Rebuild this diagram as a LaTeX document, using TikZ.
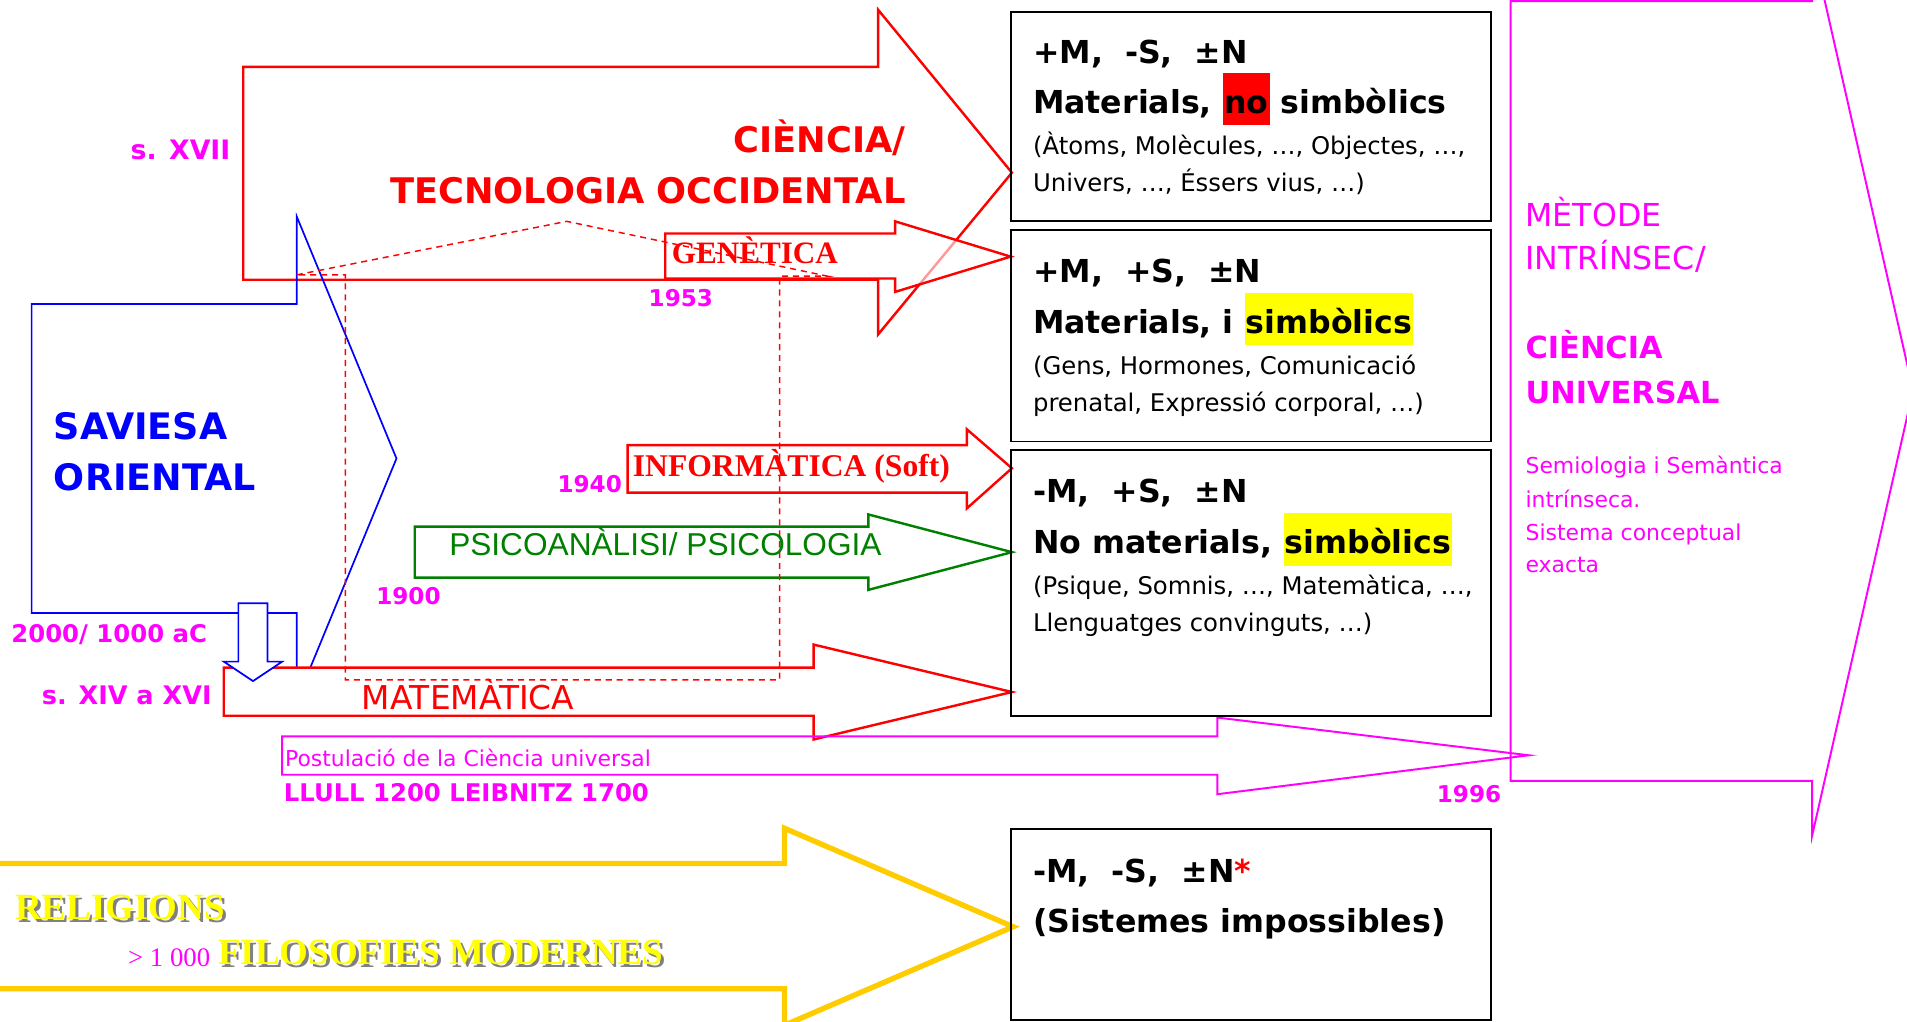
\documentclass[tikz,border=0pt]{standalone}
\usepackage{fontspec}
\usepackage{tikz}
\usepackage{xcolor}
\setmainfont{DejaVu Sans}
\newfontfamily\timesfont{Liberation Serif}
\newfontfamily\arialfont{Liberation Sans}
\definecolor{gold}{RGB}{255,204,0}
\definecolor{psygreen}{RGB}{0,128,0}
\definecolor{pinkm}{RGB}{255,0,255}
\definecolor{hlyellow}{RGB}{255,255,0}
\definecolor{hlred}{RGB}{255,0,0}
\newcommand\hilite[2]{{\setlength\fboxsep{0pt}\colorbox{#1}{\rule[-5pt]{0pt}{21.5pt}\kern0.5pt#2\kern0.5pt}}}
\newcommand\shadowed[1]{\makebox[0pt][l]{\kern1.2pt\raisebox{-1.2pt}{\textcolor{gray}{#1}}}\textcolor{hlyellow}{#1}}

\begin{document}
\begin{tikzpicture}[x=0.5pt, y=-0.5pt,
    txt/.style={anchor=base west, inner sep=0pt},
    head/.style={txt, font=\bfseries\fontsize{13}{15}\selectfont},
    plain/.style={txt, font=\fontsize{10}{12}\selectfont},
    year/.style={txt, text=pinkm, font=\bfseries\fontsize{9.5}{11}\selectfont},
    pinktxt/.style={txt, text=pinkm, font=\fontsize{#1}{15}\selectfont},
    blockarrow/.style={line width=1pt, line join=miter},
    panel/.style={draw, line width=0.8pt}]
\useasboundingbox (0,0) rectangle (1568,840);

% block arrows
\draw[blockarrow, pinkm, line width=0.8pt] (1242,1) -- (1490,1) -- (1490,-45) -- (1573,321) -- (1490,687) -- (1490,642) -- (1242,642) -- cycle;
\draw[blockarrow, hlred] (200,55) -- (722,55) -- (722,8) -- (832,142) -- (722,275) -- (722,230) -- (200,230) -- cycle;
\draw[blockarrow, blue, line width=0.7pt] (26,250) -- (244,250) -- (244,178) -- (326,377) -- (244,576) -- (244,504) -- (26,504) -- cycle;
\filldraw[blockarrow, hlred, fill=white] (184,549) -- (669,549) -- (669,530) -- (832,569) -- (669,608) -- (669,588.5) -- (184,588.5) -- cycle;
\filldraw[blockarrow, blue, fill=white, line width=0.7pt] (196,496) -- (220,496) -- (220,544) -- (232,544) -- (208,560) -- (184,544) -- (196,544) -- cycle;
\draw[blockarrow, hlred, fill=white, fill opacity=0.6] (547,192) -- (736,192) -- (736,182) -- (831,211) -- (736,240) -- (736,229) -- (547,229) -- cycle;
\draw[blockarrow, hlred] (516,366) -- (795,366) -- (795,353) -- (832,385) -- (795,418) -- (795,405) -- (516,405) -- cycle;
\draw[blockarrow, psygreen] (341,433) -- (714,433) -- (714,423) -- (832,454) -- (714,485) -- (714,475) -- (341,475) -- cycle;
\draw[blockarrow, pinkm, line width=0.8pt] (232,605.5) -- (1001,605.5) -- (1001,590) -- (1257,621) -- (1001,653) -- (1001,637) -- (232,637) -- cycle;
\draw[blockarrow, gold, line width=2.2pt] (-10,710) -- (645,710) -- (645,681) -- (833,762) -- (645,843) -- (645,813) -- (-10,813);

% boxes
\draw[panel] (831.5,9.5) rectangle (1226,182);
\draw[panel] (831.5,189.5) rectangle (1226,363);
\draw[panel] (831.5,370) rectangle (1226,588.5);
\draw[panel] (831.5,682) rectangle (1226,839);

\draw[hlred, dash pattern=on 2.5pt off 2pt, line width=0.6pt] (244,226) -- (466,182) -- (680,227) -- (641,227) -- (641,559) -- (284,559) -- (284,226) -- cycle;

% labels on the arrows
\node[txt, anchor=base east, text=hlred, font=\bfseries\fontsize{14.5}{17}\selectfont] (ciencia) at (745,125) {CIÈNCIA/};
\node[txt, anchor=base east, text=hlred, font=\bfseries\fontsize{14.5}{17}\selectfont] (tecnologia) at (745,167) {TECNOLOGIA OCCIDENTAL};
\node[txt, text=pinkm, font=\bfseries\fontsize{11}{13}\selectfont] (sxvii) at (107,131) {s. XVII};
\node[txt, text=hlred, font=\timesfont\bfseries\fontsize{12.8}{15}\selectfont] (genetica) at (552,217) {GENÈTICA};
\node[year] (d1953) at (533,252) {1953};
\node[txt, text=blue, font=\bfseries\fontsize{15}{18}\selectfont] (saviesa) at (44,361) {SAVIESA};
\node[txt, text=blue, font=\bfseries\fontsize{15}{18}\selectfont] (oriental) at (44,403) {ORIENTAL};
\node[txt, text=hlred, font=\timesfont\bfseries\fontsize{13}{15}\selectfont] (informatica) at (520,392) {INFORMÀTICA (Soft)};
\node[year] (d1940) at (458,405) {1940};
\node[txt, text=psygreen, font=\arialfont\fontsize{13}{15}\selectfont] (psico) at (369,457) {PSICOANÀLISI/ PSICOLOGIA};
\node[year] (d1900) at (309,497) {1900};
\node[txt, text=pinkm, font=\bfseries\fontsize{10}{12}\selectfont] (aC) at (9,528) {2000/ 1000 aC};
\node[txt, text=pinkm, font=\bfseries\fontsize{10.5}{12}\selectfont] (sxiv) at (34,579) {s. XIV a XVI};
\node[txt, text=hlred, font=\fontsize{13.5}{16}\selectfont] (matematica) at (297,583) {MATEMÀTICA};
\node[txt, text=pinkm, font=\fontsize{9}{11}\selectfont] (postulacio) at (234,630) {Postulació de la Ciència universal};
\node[txt, text=pinkm, font=\bfseries\fontsize{10}{12}\selectfont] (llull) at (233,659) {LLULL 1200 LEIBNITZ 1700};
\node[year] (d1996) at (1181,660) {1996};
\node[txt, font=\timesfont\bfseries\fontsize{15.2}{18}\selectfont] (religions) at (12,756) {\shadowed{RELIGIONS}};
\node[txt, text=pinkm, font=\timesfont\fontsize{11}{13}\selectfont] (mil) at (105,795) {> 1 000};
\node[txt, font=\timesfont\bfseries\fontsize{15.2}{18}\selectfont] (filosofies) at (179,793) {\shadowed{FILOSOFIES MODERNES}};

% universal science
\node[pinktxt=13] (metode) at (1254,186) {MÈTODE};
\node[pinktxt=13] (intrinsec) at (1254,221.6) {INTRÍNSEC/};
\node[pinktxt=12.5, font=\bfseries\fontsize{12.5}{15}\selectfont] (cienciau) at (1254,295) {CIÈNCIA};
\node[pinktxt=12.5, font=\bfseries\fontsize{12.5}{15}\selectfont] (universal) at (1254,332) {UNIVERSAL};
\node[pinktxt=9] (semiologia) at (1254,389) {Semiologia i Semàntica};
\node[pinktxt=9] (intrinseca) at (1254,417) {intrínseca.};
\node[pinktxt=9] (sistema) at (1254,444.5) {Sistema conceptual};
\node[pinktxt=9] (exacta) at (1254,471) {exacta};

% box contents
\node[head] (h1) at (849,52.6) {+M,\ \ -S,\ \ ±N};
\node[head] (m1) at (849,93) {Materials,\ \hilite{hlred}{no}\ simbòlics};
\node[plain] (a1) at (849,127) {(Àtoms, Molècules, …, Objectes, …,};
\node[plain] (b1) at (849,157.5) {Univers, …, Éssers vius, …)};
\node[head] (h2) at (849,232.5) {+M,\ \ +S,\ \ ±N};
\node[head] (m2) at (849,274) {Materials, i \hilite{hlyellow}{simbòlics}};
\node[plain] (a2) at (849,308) {(Gens, Hormones, Comunicació};
\node[plain] (b2) at (849,338) {prenatal, Expressió corporal, …)};
\node[head] (h3) at (849,413) {-M,\ \ +S,\ \ ±N};
\node[head] (m3) at (849,455) {No materials, \hilite{hlyellow}{simbòlics}};
\node[plain] (a3) at (849,489) {(Psique, Somnis, …, Matemàtica, …,};
\node[plain] (b3) at (849,519) {Llenguatges convinguts, …)};
\node[head] (h4) at (849,726) {-M,\ \ -S,\ \ ±N\textcolor{hlred}{*}};
\node[head] (m4) at (849,767) {(Sistemes impossibles)};
\end{tikzpicture}
\end{document}
